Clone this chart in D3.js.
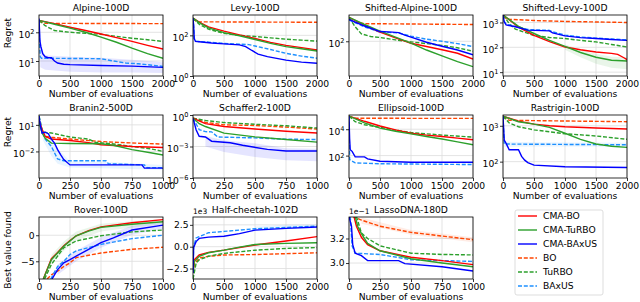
<!DOCTYPE html>
<html><head><meta charset="utf-8">
<script src="https://cdn.jsdelivr.net/npm/d3@7"></script>
<style>body{margin:0;background:#fff}svg{font-family:"DejaVu Sans",sans-serif}</style>
</head><body>
<script>
const W = 640, H = 302;
const methods = ["CMA-BO", "CMA-TuRBO", "CMA-BAxUS", "BO", "TuRBO", "BAxUS"];
const colors = ["#ff0000", "#2ca02c", "#0000ff", "#ff4500", "#2ca02c", "#1e90ff"];
const dashed = [false, false, false, true, true, true];

// series order: CMA-BO, CMA-TuRBO, CMA-BAxUS, BO, TuRBO, BAxUS ; points are [evaluations, value]
const alpine = [
	[[0,260],[250,200],[500,150],[750,115],[1000,87],[1250,65],[1500,48],[1750,35],[2000,26]],
	[[0,260],[250,190],[500,140],[750,100],[1000,68],[1250,45],[1500,28],[1750,18],[2000,12.5]],
	[[0,300],[8,120],[15,50],[30,32],[60,18],[100,14],[150,13],[200,13],[250,10],[300,8.5],[400,7.7],[500,7.5],[1000,7],[1500,6.6],[2000,6]],
	[[0,250],[50,220],[100,205],[2000,200]],
	[[0,260],[100,170],[250,115],[500,100],[750,92],[1000,85],[1250,72],[1500,62],[1750,55],[2000,48]],
	[[0,250],[10,40],[20,14],[40,12.5],[1000,12],[1200,10],[1400,8.5],[1600,8],[2000,6.5]]
];
const alpineBand = [[20,6,30],[100,5,16],[500,4.2,14],[1000,4,13],[1500,4,11],[2000,3.8,9]];

const levy = [
	[[0,700],[100,450],[250,260],[500,160],[750,105],[1000,70],[1250,45],[1500,32],[1750,25],[2000,19]],
	[[0,700],[100,420],[250,230],[500,135],[750,95],[1000,62],[1250,40],[1500,28],[1750,22],[2000,17]],
	[[0,700],[10,300],[20,70],[40,50],[100,48],[300,42],[500,38],[750,34],[850,28],[950,18],[1050,12],[1200,9],[1500,6],[1750,4.8],[2000,4.2]],
	[[0,650],[50,500],[100,460],[2000,440]],
	[[0,700],[100,350],[250,200],[500,125],[750,100],[1000,88],[1250,75],[1500,65],[1750,58],[2000,52]],
	[[0,700],[10,300],[20,70],[40,52],[100,50],[500,40],[900,35],[1000,30],[1250,20],[1500,13],[1750,9.5],[2000,7.5]]
];

const shiftedAlpine = [
	[[0,370],[250,240],[500,165],[750,120],[1000,90],[1250,75],[1500,63],[1750,52],[2000,38]],
	[[0,370],[250,250],[500,175],[750,125],[1000,90],[1250,62],[1500,45],[1750,33],[2000,25]],
	[[0,330],[250,230],[500,170],[700,165],[800,160],[900,140],[1000,125],[1250,95],[1500,76],[1750,62],[2000,48]],
	[[0,340],[100,280],[250,262],[2000,250]],
	[[0,370],[100,220],[200,150],[350,130],[500,123],[750,108],[1000,97],[1250,88],[1500,80],[1750,70],[2000,58]],
	[[0,320],[250,220],[500,165],[800,158],[1000,132],[1250,112],[1500,100],[1750,88],[2000,75]]
];

const shiftedLevy = [
	[[0,2000],[250,650],[500,300],[750,170],[1000,103],[1250,80],[1500,65],[1750,57],[1850,52],[1950,38],[2000,32]],
	[[0,2000],[250,700],[500,360],[750,190],[1000,110],[1250,62],[1500,40],[1750,30],[2000,28]],
	[[0,2000],[20,1060],[50,800],[200,670],[400,490],[750,460],[800,380],[1000,290],[1250,245],[1500,225],[1750,205],[2000,190]],
	[[0,1800],[50,1450],[100,1350],[500,1200],[1000,1100],[2000,1000]],
	[[0,2000],[100,900],[200,540],[500,300],[750,250],[1000,225],[1250,190],[1500,165],[1750,130],[2000,103]],
	[[0,2000],[20,1100],[50,850],[200,700],[400,520],[750,480],[800,420],[1000,310],[1250,260],[1500,235],[1750,215],[2000,200]]
];
const shiftedLevyBand = [[1000,80,130],[1250,40,80],[1500,22,55],[1750,15,42],[2000,13,40]];

const branin = [
	[[0,30],[25,3],[50,0.5],[100,0.25],[250,0.17],[400,0.1],[500,0.056],[750,0.036],[1000,0.028]],
	[[0,20],[25,1.2],[50,0.3],[100,0.087],[250,0.08],[500,0.074],[600,0.05],[750,0.016],[900,0.007],[1000,0.004]],
	[[0,100],[10,10],[25,1.2],[50,1.5],[75,1],[100,0.25],[125,0.087],[150,0.016],[175,0.004],[200,0.0012],[250,3e-4],[830,3e-4],[850,1.3e-4],[1000,1.3e-4]],
	[[0,30],[25,2],[50,0.5],[100,0.4],[250,0.25],[500,0.13],[750,0.09],[1000,0.068]],
	[[0,100],[30,1.5],[100,1.2],[250,0.42],[400,0.25],[450,0.11],[600,0.07],[750,0.036],[900,0.02],[1000,0.01]],
	[[0,100],[25,2],[50,0.25],[100,0.036],[150,0.0014],[200,9e-4],[540,9e-4],[560,4e-4],[850,3e-4],[870,1.5e-4],[1000,1.5e-4]]
];
const braninBand = [[30,0.2,3],[100,0.003,0.3],[150,4e-4,0.02],[250,1.5e-4,8e-4],[600,1.2e-4,6e-4],[1000,8e-5,3e-4]];

const schaffer = [
	[[0,0.5],[100,0.15],[250,0.08],[500,0.046],[750,0.028],[1000,0.019]],
	[[0,0.5],[50,0.15],[100,0.08],[250,0.019],[500,0.0083],[750,0.0046],[1000,0.0026]],
	[[0,0.5],[25,0.04],[50,0.0094],[100,0.008],[150,0.0032],[300,0.0023],[400,0.0013],[600,5.3e-4],[750,3.7e-4],[1000,3.7e-4]],
	[[0,0.5],[100,0.2],[250,0.116],[500,0.1],[750,0.07],[1000,0.046]],
	[[0,0.5],[100,0.3],[250,0.19],[500,0.13],[750,0.094],[1000,0.057]],
	[[0,0.5],[50,0.04],[100,0.026],[150,0.025],[200,0.008],[500,0.0066],[750,0.005],[1000,0.0046]]
];
const schafferBand = [[100,1e-3,0.01],[250,3e-4,0.004],[500,1e-4,0.002],[750,5e-5,7e-4],[1000,4e-5,6e-4]];

const ellipsoid = [
	[[0,1e5],[250,4e4],[500,1.76e4],[750,9e3],[1000,5e3],[1250,3.6e3],[1500,2.8e3],[1750,2.1e3],[2000,1.6e3]],
	[[0,1e5],[250,3e4],[500,1.2e4],[750,7e3],[1000,4.4e3],[1250,2.8e3],[1500,1.8e3],[1750,1.1e3],[2000,670]],
	[[0,1e5],[10,2e3],[20,280],[50,210],[100,80],[250,80],[300,57],[500,37],[1000,31],[2000,31]],
	[[0,9e4],[100,6.8e4],[2000,6.6e4]],
	[[0,1e5],[100,3.7e4],[250,2.2e4],[500,1.4e4],[750,8.5e3],[1000,5.6e3],[1500,3.6e3],[2000,2.5e3]],
	[[0,1e5],[10,50],[100,28],[500,24],[2000,21]]
];

const rastrigin = [
	[[0,1850],[250,1350],[500,1110],[750,1000],[1000,940],[1500,870],[2000,815]],
	[[0,1850],[250,1300],[500,1110],[750,900],[1000,620],[1250,420],[1500,310],[1750,270],[2000,250]],
	[[0,1850],[20,400],[50,323],[100,214],[250,214],[300,140],[350,110],[400,94],[500,80],[1000,72],[2000,69]],
	[[0,1800],[100,1420],[2000,1300]],
	[[0,1850],[100,1200],[250,940],[500,770],[1000,600],[1500,520],[2000,420]],
	[[0,1800],[20,310],[2000,295]]
];
const rastriginBand = [[20,260,360],[500,265,345],[1000,265,340],[2000,260,335]];

const rover = [
	[[35,-8.4],[100,-4.5],[150,-3.3],[200,-2.0],[250,-1.0],[300,-0.1],[400,0.9],[500,1.6],[750,2.4],[1000,3.0]],
	[[35,-8.4],[100,-4.7],[150,-3.4],[200,-2.1],[250,-1.1],[300,-0.1],[400,0.8],[500,1.5],[750,2.1],[1000,2.6]],
	[[105,-8.4],[150,-6.6],[200,-5.3],[250,-4.7],[300,-4.0],[400,-2.7],[500,-1.4],[600,-0.5],[750,1.0],[1000,1.95]],
	[[65,-8.4],[100,-7.6],[150,-6.9],[200,-6.0],[250,-5.3],[300,-4.3],[500,-3.4],[750,-2.7],[1000,-2.3]],
	[[45,-8.4],[100,-5.6],[150,-4.0],[200,-2.4],[250,-1.75],[300,-1.1],[500,-0.1],[750,0.65],[1000,1.0]],
	[[95,-8.4],[150,-6.0],[200,-5.0],[250,-3.7],[300,-3.0],[500,-1.75],[750,-0.65],[1000,0.0]]
];
const roverGreenBand = [[100,-5.6,-3.8],[200,-3.0,-1.2],[300,-1.0,0.7],[500,0.7,2.2],[750,1.5,2.7],[1000,2.1,3.1]];
const roverBlueBand = [[150,-7.6,-5.6],[300,-5.0,-3.0],[500,-2.4,-0.4],[750,0.1,1.8],[1000,1.2,2.6]];

const halfCheetah = [
	[[0,-3.0],[20,-1.5],[100,-0.95],[250,-0.65],[500,-0.4],[1000,0.2],[1500,0.65],[2000,1.15]],
	[[0,-3.0],[20,-1.7],[100,-1.1],[250,-0.7],[500,-0.4],[750,-0.05],[1000,0.25],[1500,0.38],[2000,0.45]],
	[[0,-3.0],[10,-0.1],[50,0.58],[100,0.95],[250,1.1],[500,1.2],[750,1.5],[1000,1.9],[1500,2.1],[2000,2.25]],
	[[0,-3.0],[20,-2.0],[100,-1.3],[250,-1.1],[500,-0.95],[1000,-0.9],[2000,-0.7]],
	[[0,-3.7],[20,-3.0],[50,-1.9],[100,-1.5],[250,-1.1],[500,-0.77],[1000,-0.4],[1500,-0.2],[2000,-0.1]],
	[[0,-3.0],[10,0.0],[50,1.0],[100,1.15],[250,1.6],[500,1.75],[1000,2.05],[1500,2.2],[2000,2.35]]
];
const halfCheetahBand = [[1000,1.8,2.3],[1500,2.0,2.5],[2000,2.1,2.55]];

const lasso = [
	[[40,3.38],[60,3.3],[100,3.21],[150,3.15],[250,3.10],[500,3.047],[750,3.02],[1000,2.987]],
	[[50,3.38],[70,3.3],[100,3.24],[150,3.16],[250,3.10],[500,3.035],[750,3.0],[1000,2.97]],
	[[0,3.38],[20,3.3],[30,3.15],[50,3.08],[100,3.06],[150,3.02],[400,3.02],[450,2.995],[750,2.97],[1000,2.935]],
	[[30,3.38],[100,3.35],[250,3.30],[500,3.25],[750,3.22],[1000,3.19]],
	[[60,3.38],[100,3.245],[150,3.2],[250,3.14],[500,3.08],[750,3.07],[1000,3.066]],
	[[10,3.38],[25,3.14],[50,3.08],[250,3.07],[500,3.027],[1000,3.013]]
];
const lassoBand = [[100,3.32,3.37],[500,3.23,3.27],[1000,3.17,3.21]];

const xTicks2000 = [0, 500, 1000, 1500, 2000];
const xTicks1000 = [0, 250, 500, 750, 1000];

const colLeft = [39, 193, 349, 503];
const plotW = 124;
const rowTop = [15, 115, 217];
const rowBottom = [76, 178, 279];

const panels = [
	{title: "Alpine-100D", row: 0, col: 0, xMax: 2000, log: true, yDomain: [3, 400], yTicks: [10, 100], series: alpine, bands: [[alpineBand, 2]]},
	{title: "Levy-100D", row: 0, col: 1, xMax: 2000, log: true, yDomain: [1, 1000], yTicks: [1, 100], series: levy, bands: []},
	{title: "Shifted-Alpine-100D", row: 0, col: 2, xMax: 2000, log: true, yDomain: [15, 420], yTicks: [100], series: shiftedAlpine, bands: []},
	{title: "Shifted-Levy-100D", row: 0, col: 3, xMax: 2000, log: true, yDomain: [7, 2000], yTicks: [10, 100, 1000], series: shiftedLevy, bands: [[shiftedLevyBand, 1]]},
	{title: "Branin2-500D", row: 1, col: 0, xMax: 1000, log: true, yDomain: [1e-5, 130], yTicks: [0.01, 10], series: branin, bands: [[braninBand, 5]]},
	{title: "Schaffer2-100D", row: 1, col: 1, xMax: 1000, log: true, yDomain: [1e-6, 1], yTicks: [1e-6, 1e-3, 1], series: schaffer, bands: [[schafferBand, 2]]},
	{title: "Ellipsoid-100D", row: 1, col: 2, xMax: 2000, log: true, yDomain: [2, 1.2e5], yTicks: [100, 1e4], series: ellipsoid, bands: []},
	{title: "Rastrigin-100D", row: 1, col: 3, xMax: 2000, log: true, yDomain: [35, 2000], yTicks: [100, 1000], series: rastrigin, bands: [[rastriginBand, 5]]},
	{title: "Rover-100D", row: 2, col: 0, xMax: 1000, log: false, yDomain: [-8.4, 3.5], yTicks: [-5, 0], fmt: d3.format(".0f"), series: rover, bands: [[roverGreenBand, 1], [roverBlueBand, 2]]},
	{title: "Half-cheetah-102D", row: 2, col: 1, xMax: 2000, log: false, yDomain: [-3.7, 3.4], yTicks: [-2.5, 0, 2.5], fmt: d3.format(".1f"), offset: "1e3", series: halfCheetah, bands: [[halfCheetahBand, 5]]},
	{title: "LassoDNA-180D", row: 2, col: 2, xMax: 1000, log: false, yDomain: [2.87, 3.375], yTicks: [3.0, 3.2], fmt: d3.format(".1f"), offset: "1e\u22121", series: lasso, bands: [[lassoBand, 3]]}
];

const svg = d3.select("body").append("svg").attr("width", W).attr("height", H);
const fs = 9.2;
const minus = (s) => s.replace("-", "\u2212");

panels.forEach((p, i) => {
	const left = colLeft[p.col], top = rowTop[p.row];
	const h = rowBottom[p.row] - top, w = plotW;
	const g = svg.append("g").attr("transform", `translate(${left},${top})`);
	const x = d3.scaleLinear().domain([0, p.xMax]).range([0, w]);
	const y = (p.log ? d3.scaleLog() : d3.scaleLinear()).domain(p.yDomain).range([h, 0]);
	const xt = p.xMax === 2000 ? xTicks2000 : xTicks1000;

	// grid
	g.selectAll(".gx").data(xt).enter().append("line")
		.attr("x1", (d) => x(d)).attr("x2", (d) => x(d)).attr("y1", 0).attr("y2", h)
		.attr("stroke", "#dcdcdc").attr("stroke-width", 0.8);
	g.selectAll(".gy").data(p.yTicks).enter().append("line")
		.attr("x1", 0).attr("x2", w).attr("y1", (d) => y(d)).attr("y2", (d) => y(d))
		.attr("stroke", "#dcdcdc").attr("stroke-width", 0.8);

	g.append("clipPath").attr("id", "clip" + i).append("rect").attr("width", w).attr("height", h);
	const plot = g.append("g").attr("clip-path", `url(#clip${i})`);

	p.bands.forEach(([band, k]) => {
		const area = d3.area().x((d) => x(d[0])).y0((d) => y(d[1])).y1((d) => y(d[2]));
		plot.append("path").attr("d", area(band)).attr("fill", colors[k]).attr("opacity", 0.1);
	});

	const line = d3.line().x((d) => x(d[0])).y((d) => y(d[1]));
	[3, 4, 5, 0, 1, 2].forEach((k) => {
		plot.append("path").attr("d", line(p.series[k]))
			.attr("fill", "none").attr("stroke", colors[k]).attr("stroke-width", 1.4)
			.attr("stroke-dasharray", dashed[k] ? "4,1.8" : null);
	});

	g.append("rect").attr("width", w).attr("height", h)
		.attr("fill", "none").attr("stroke", "#000").attr("stroke-width", 0.8);

	const xAxis = g.append("g").attr("transform", `translate(0,${h})`)
		.call(d3.axisBottom(x).tickValues(xt).tickSize(3).tickPadding(1).tickFormat(d3.format("d")));
	const yAxis = g.append("g")
		.call(d3.axisLeft(y).tickValues(p.yTicks).tickSize(3).tickPadding(1.5)
			.tickFormat(p.log ? () => "" : (d) => minus(p.fmt(d))));
	[xAxis, yAxis].forEach((a) => {
		a.select(".domain").remove();
		a.selectAll("line").attr("stroke-width", 0.8);
		a.selectAll("text").attr("font-size", fs).attr("font-family", "DejaVu Sans").attr("fill", "#000");
	});
	if (p.log) {
		yAxis.selectAll(".tick text").each(function (d) {
			const t = d3.select(this);
			t.text("10").attr("dy", "0.55em");
			t.append("tspan").attr("dy", "-0.55em").attr("font-size", 6.6)
				.text(minus(String(Math.round(Math.log10(d)))));
		});
	}

	g.append("text").attr("x", w / 2).attr("y", -4).attr("text-anchor", "middle")
		.attr("font-size", fs).text(p.title);
	g.append("text").attr("x", w / 2).attr("y", h + 20.5).attr("text-anchor", "middle")
		.attr("font-size", fs).text("Number of evaluations");
	if (p.offset) {
		g.append("text").attr("x", 0).attr("y", -3).attr("font-size", 7.5).text(p.offset);
	}
});

// y labels
[["Regret", 33], ["Regret", 132], ["Best value found", 250]].forEach(([t, cy]) => {
	svg.append("text").attr("transform", `translate(11,${cy}) rotate(-90)`)
		.attr("text-anchor", "middle").attr("font-size", fs).text(t);
});

// legend
const lg = svg.append("g").attr("transform", "translate(515,210)");
lg.append("rect").attr("width", 88).attr("height", 85).attr("rx", 2)
	.attr("fill", "#fff").attr("stroke", "#d4d4d4").attr("stroke-width", 0.8);
methods.forEach((m, k) => {
	const cy = 6 + k * 14;
	lg.append("line").attr("x1", 3).attr("x2", 22).attr("y1", cy).attr("y2", cy)
		.attr("stroke", colors[k]).attr("stroke-width", 1.4)
		.attr("stroke-dasharray", dashed[k] ? "4,1.8" : null);
	lg.append("text").attr("x", 28).attr("y", cy + 3.3).attr("font-size", fs).text(m);
});
</script>
</body></html>
